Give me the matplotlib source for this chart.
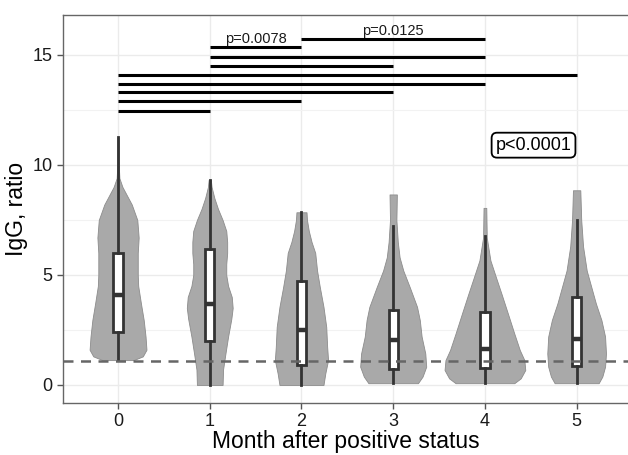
import numpy as np
import matplotlib
matplotlib.use("Agg")
import matplotlib.pyplot as plt

plt.rcParams['font.family'] = ['Liberation Sans', 'DejaVu Sans']

# months on the x axis
months = [0, 1, 2, 3, 4, 5]

# violin outlines: (IgG value, half width)
violin_0 = [(11.25, 0.006), (10.0, 0.008), (9.4, 0.015), (9.0, 0.048), (8.2, 0.15),
            (7.5, 0.21), (6.7, 0.225), (6.0, 0.215), (5.0, 0.215), (4.5, 0.22),
            (3.7, 0.25), (2.95, 0.28), (2.2, 0.30), (1.6, 0.31), (1.3, 0.27), (1.13, 0.17)]
violin_1 = [(9.32, 0.012), (9.0, 0.02), (8.5, 0.05), (8.0, 0.09), (7.5, 0.14),
            (7.0, 0.18), (6.5, 0.19), (6.0, 0.19), (5.5, 0.18), (5.0, 0.18),
            (4.5, 0.2), (4.0, 0.24), (3.5, 0.25), (3.0, 0.235), (2.2, 0.2),
            (1.4, 0.17), (0.7, 0.145), (0.0, 0.14)]
violin_2 = [(7.85, 0.055), (7.5, 0.06), (7.0, 0.08), (6.5, 0.11), (6.0, 0.15),
            (5.2, 0.17), (4.45, 0.2), (3.55, 0.24), (2.64, 0.27), (1.74, 0.28),
            (1.13, 0.29), (0.53, 0.26), (0.0, 0.24)]
violin_3 = [(8.66, 0.04), (7.5, 0.035), (6.5, 0.05), (5.8, 0.07), (5.2, 0.11),
            (4.45, 0.18), (3.55, 0.26), (2.95, 0.29), (2.2, 0.31), (1.43, 0.35),
            (0.83, 0.36), (0.38, 0.32), (0.08, 0.27)]
violin_4 = [(8.05, 0.015), (6.7, 0.02), (5.66, 0.06), (4.9, 0.12), (4.15, 0.18),
            (3.25, 0.25), (2.34, 0.32), (1.59, 0.38), (1.13, 0.43), (0.68, 0.44),
            (0.3, 0.39), (0.08, 0.32)]
violin_5 = [(8.85, 0.04), (7.5, 0.05), (6.3, 0.07), (5.2, 0.11), (4.45, 0.16),
            (3.7, 0.21), (2.95, 0.27), (2.2, 0.31), (1.43, 0.32), (0.83, 0.31),
            (0.38, 0.28), (0.08, 0.24)]
violins = [violin_0, violin_1, violin_2, violin_3, violin_4, violin_5]

# box stats: whisker low, q1, median, q3, whisker high
whisk_lo = [1.13, 0.0, 0.0, 0.08, 0.08, 0.08]
q1 = [2.39, 1.98, 0.91, 0.71, 0.76, 0.86]
median = [4.08, 3.70, 2.52, 2.04, 1.62, 2.08]
q3 = [6.01, 6.16, 4.73, 3.40, 3.31, 4.00]
whisk_hi = [11.25, 9.32, 7.85, 7.24, 6.75, 7.48]

threshold = 1.1

# pairwise comparison bars
pairs = [(0, 1), (0, 2), (0, 3), (0, 4), (0, 5), (1, 3), (1, 4), (1, 2), (2, 4)]
pair_y = [12.47, 12.89, 13.30, 13.70, 14.10, 14.51, 14.92, 15.34, 15.73]
pair_labels = {(1, 2): "p=0.0078", (2, 4): "p=0.0125"}
global_p = "p<0.0001"

fig = plt.figure(figsize=(6.28, 4.55), dpi=100)
ax = fig.add_axes([63 / 628, 1 - 403 / 455, 1 - 63 / 628, (403 - 14.5) / 455])

for m, v in zip(months, violins):
    ys = np.array([p[0] for p in v])
    hw = np.array([p[1] for p in v])
    ax.fill_betweenx(ys, m - hw, m + hw, facecolor="#a9a9a9", edgecolor="#8c8c8c",
                     linewidth=0.6, zorder=2)

stats = []
for i in range(len(months)):
    stats.append({"whislo": whisk_lo[i], "q1": q1[i], "med": median[i],
                  "q3": q3[i], "whishi": whisk_hi[i], "fliers": []})
ax.bxp(stats, positions=months, widths=0.1, showcaps=False, patch_artist=True,
       boxprops=dict(facecolor="white", edgecolor="#333333", linewidth=2),
       whiskerprops=dict(color="#333333", linewidth=2),
       medianprops=dict(color="#333333", linewidth=3.2),
       manage_ticks=False, zorder=3)

ax.axhline(threshold, color="#666666", linestyle=(0, (4, 3)), linewidth=1.8, zorder=4)

for (a, b), y in zip(pairs, pair_y):
    ax.plot([a, b], [y, y], color="black", linewidth=2.2, solid_capstyle="butt", zorder=4)
    if (a, b) in pair_labels:
        ax.text((a + b) / 2, y + 0.05, pair_labels[(a, b)], ha="center", va="bottom",
                fontsize=10.5, color="#1a1a1a")

ax.text(4.53, 10.9, global_p, ha="center", va="center", fontsize=13, color="black",
        bbox=dict(boxstyle="round,pad=0.22,rounding_size=0.3", facecolor="white",
                  edgecolor="black", linewidth=1.3), zorder=5)

ax.set_xlim(-0.6, 5.56)
ax.set_ylim(-0.82, 16.84)
ax.set_xticks(months)
ax.set_yticks([0, 5, 10, 15])
ax.set_yticks([2.5, 7.5, 12.5], minor=True)
ax.grid(True, which="major", color="#ebebeb", linewidth=1.0, zorder=0)
ax.grid(True, which="minor", axis="y", color="#f2f2f2", linewidth=0.8, zorder=0)
ax.set_axisbelow(True)
ax.tick_params(axis="both", which="major", labelsize=13, colors="#555555",
               labelcolor="#1a1a1a", length=4, width=1)
ax.tick_params(axis="y", which="minor", length=0)
for s in ["left", "bottom", "top"]:
    ax.spines[s].set_color("#666666")
    ax.spines[s].set_linewidth(1.0)
ax.spines["right"].set_visible(False)

ax.set_xlabel("Month after positive status", fontsize=16.5, color="black", labelpad=0)
ax.set_ylabel("IgG, ratio", fontsize=16.5, color="black", labelpad=3)

fig.savefig("out.png", dpi=100)
